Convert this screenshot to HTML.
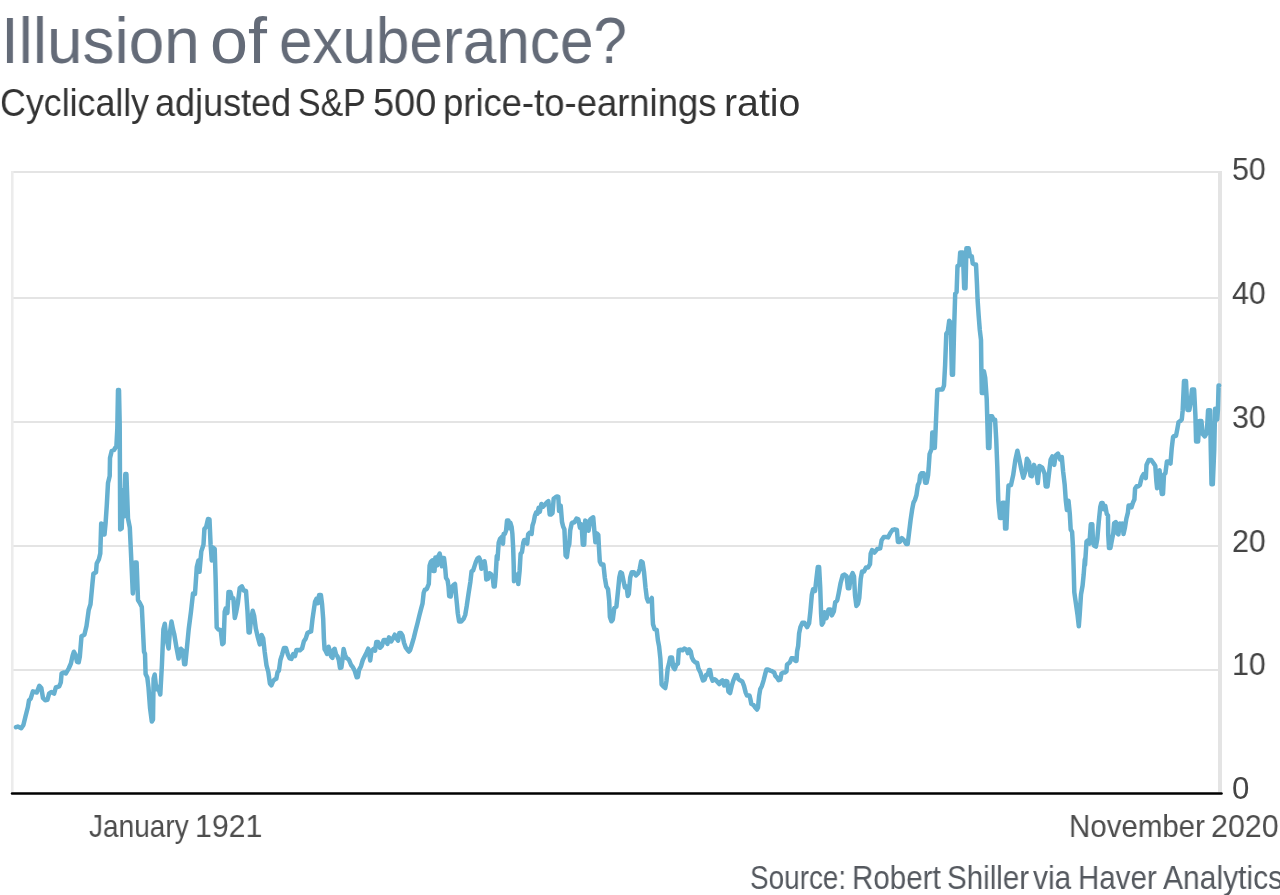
<!DOCTYPE html>
<html><head><meta charset="utf-8"><title>Illusion of exuberance?</title>
<style>
html,body{margin:0;padding:0;background:#fff;}
body{width:1280px;height:895px;position:relative;overflow:hidden;font-family:"Liberation Sans",sans-serif;}
.t{position:absolute;white-space:nowrap;line-height:1;transform-origin:0 0;will-change:transform;}
svg{position:absolute;left:0;top:0;}
</style></head><body>
<svg width="1280" height="895" viewBox="0 0 1280 895">
<g stroke="#e4e4e4" stroke-width="2" fill="none">
<line x1="11" y1="172" x2="1218" y2="172"/>
<line x1="11" y1="298" x2="1218" y2="298"/>
<line x1="11" y1="422" x2="1218" y2="422"/>
<line x1="11" y1="546" x2="1218" y2="546"/>
<line x1="11" y1="670" x2="1218" y2="670"/>
</g>
<line x1="12.3" y1="171" x2="12.3" y2="792" stroke="#ececec" stroke-width="2.6"/>
<line x1="1220" y1="171" x2="1220" y2="792" stroke="#e4e4e4" stroke-width="4"/>
<path d="M16.0 727.2 L17.8 726.6 L21.2 728.3 L23.4 725.0 L25.6 716.0 L27.9 707.0 L29.0 700.3 L30.7 698.7 L32.9 691.4 L35.1 692.0 L36.8 692.5 L39.3 685.8 L41.3 688.0 L43.0 698.0 L45.2 700.3 L47.4 699.8 L49.1 693.6 L51.3 692.0 L54.1 693.6 L55.8 687.5 L59.2 686.4 L60.8 682.5 L61.6 673.5 L63.6 672.4 L65.9 673.5 L68.7 668.5 L70.9 663.5 L72.6 655.6 L73.9 651.7 L75.4 654.5 L77.0 661.8 L78.7 662.3 L79.8 656.8 L81.5 636.3 L84.4 634.8 L86.5 626.0 L88.7 610.0 L90.5 604.3 L92.4 584.0 L93.4 573.8 L96.0 572.3 L96.7 563.6 L98.9 559.2 L100.3 553.4 L101.2 523.4 L103.0 525.0 L104.5 534.5 L105.6 523.0 L106.8 505.0 L108.0 483.0 L109.7 476.0 L110.0 458.0 L111.7 451.0 L114.0 450.0 L116.4 446.0 L117.3 429.0 L118.0 390.0 L119.0 390.0 L119.7 425.0 L120.2 529.5 L121.7 528.5 L123.0 490.0 L124.0 516.5 L125.3 474.0 L126.4 474.0 L128.0 518.5 L129.8 527.5 L131.3 560.0 L132.8 593.5 L135.0 562.6 L136.6 562.6 L138.0 600.0 L140.2 603.7 L141.8 607.0 L142.9 629.0 L144.0 651.7 L145.0 654.0 L145.6 674.0 L147.3 677.4 L148.5 687.5 L150.0 707.6 L151.8 721.5 L153.0 719.5 L153.6 678.5 L154.7 674.5 L156.3 689.3 L158.0 686.8 L160.3 694.5 L161.9 665.0 L163.4 629.4 L164.8 623.8 L166.3 638.0 L168.6 648.5 L169.7 634.0 L171.5 621.6 L173.0 629.4 L174.2 634.0 L176.4 647.0 L178.6 658.5 L180.9 648.8 L182.7 650.6 L184.2 664.3 L185.3 664.3 L187.0 647.0 L188.7 629.4 L191.0 611.5 L193.0 593.6 L195.0 593.9 L196.8 567.0 L198.4 560.6 L199.5 571.8 L201.3 551.4 L203.5 544.7 L204.4 529.0 L206.2 526.8 L208.0 519.0 L209.5 519.5 L210.6 544.7 L211.8 560.5 L212.9 547.4 L214.7 549.0 L215.6 578.0 L216.7 627.4 L218.5 629.6 L220.7 630.0 L222.3 644.2 L223.6 643.0 L224.7 611.7 L225.8 608.2 L227.4 613.0 L228.5 591.9 L230.3 591.9 L231.9 598.3 L233.4 598.3 L234.8 618.0 L236.3 611.7 L237.9 602.8 L239.7 588.0 L241.9 586.4 L243.7 590.5 L246.0 591.0 L247.5 611.7 L248.6 632.5 L249.7 632.5 L250.9 620.7 L252.7 610.8 L254.2 616.2 L255.8 628.5 L257.6 636.3 L259.8 644.4 L261.6 635.0 L263.2 638.5 L264.7 652.0 L266.5 665.4 L268.3 672.0 L269.9 683.5 L271.4 685.3 L273.2 681.0 L274.5 679.6 L276.3 678.8 L277.5 672.5 L278.9 670.7 L280.4 660.0 L282.1 654.6 L283.9 648.0 L286.0 648.0 L287.9 654.6 L289.6 658.4 L291.4 658.9 L293.2 654.1 L295.0 656.0 L296.4 650.0 L298.2 650.0 L300.0 650.2 L302.1 648.4 L303.9 641.2 L305.7 638.6 L307.5 633.0 L309.3 632.0 L311.1 631.4 L312.5 619.0 L313.8 610.0 L315.0 602.0 L316.4 598.8 L317.9 603.2 L319.1 595.0 L320.9 595.0 L322.1 604.6 L323.2 619.0 L323.9 638.6 L324.6 649.3 L325.7 651.0 L327.1 654.0 L328.6 646.8 L329.8 651.0 L331.1 656.4 L332.5 657.8 L333.4 650.2 L334.6 648.8 L336.1 654.6 L337.5 656.4 L338.8 660.0 L340.0 667.9 L341.4 667.5 L342.3 660.9 L343.6 649.0 L345.0 654.6 L346.4 658.0 L348.2 659.0 L349.3 660.6 L351.1 665.0 L353.0 667.4 L354.8 671.1 L356.7 677.3 L357.9 677.0 L359.1 669.9 L361.0 666.2 L362.8 660.0 L364.7 656.3 L366.5 652.7 L368.3 648.7 L370.2 660.5 L371.4 651.4 L373.3 649.2 L375.1 650.6 L376.3 642.1 L378.2 642.1 L380.0 647.8 L381.9 645.9 L383.7 639.9 L385.5 639.9 L387.4 643.9 L389.0 637.4 L391.1 641.5 L392.9 638.5 L394.8 634.7 L396.6 638.5 L398.1 640.6 L399.3 633.1 L400.9 633.1 L402.5 635.5 L404.0 642.8 L405.8 647.7 L407.7 650.2 L408.9 651.5 L410.1 650.2 L412.0 644.0 L413.8 637.9 L415.6 630.5 L417.5 623.2 L419.3 615.8 L421.2 608.4 L422.5 603.7 L423.7 592.7 L424.9 589.6 L426.8 589.0 L428.0 585.9 L428.8 584.0 L429.6 565.6 L430.8 561.9 L432.3 560.5 L433.3 571.0 L434.5 571.0 L435.4 557.5 L437.2 565.4 L438.4 556.0 L439.7 553.6 L440.6 558.3 L441.9 566.3 L442.7 558.1 L444.0 558.1 L445.2 568.1 L446.0 577.9 L447.6 580.4 L448.5 586.5 L449.2 596.0 L450.7 596.5 L452.2 586.5 L453.8 584.9 L455.0 584.0 L455.9 593.9 L456.9 603.7 L457.8 613.5 L459.1 621.5 L461.2 621.5 L463.6 618.8 L465.2 615.0 L466.7 606.2 L468.5 593.9 L470.4 581.6 L471.6 571.2 L473.1 570.5 L474.7 565.6 L475.9 561.9 L477.5 558.4 L479.0 557.6 L480.2 560.0 L481.4 568.8 L482.7 566.9 L484.5 561.2 L485.4 566.9 L486.3 579.5 L488.2 578.6 L489.4 573.2 L491.0 574.2 L492.7 576.7 L493.7 586.5 L494.7 586.5 L495.6 576.7 L496.8 556.0 L497.5 559.7 L498.7 542.7 L499.9 539.1 L501.8 537.0 L503.0 543.7 L503.6 534.1 L504.8 534.1 L506.1 530.5 L507.0 520.6 L508.5 520.6 L509.5 528.3 L510.4 522.8 L511.6 526.8 L512.4 534.1 L513.2 548.9 L513.7 564.9 L514.0 581.2 L515.9 578.0 L517.1 574.6 L518.3 584.0 L519.6 571.0 L520.6 553.8 L522.0 552.0 L523.3 542.7 L524.2 540.0 L525.7 540.0 L527.2 543.7 L528.2 534.1 L530.0 532.5 L531.6 533.9 L532.5 525.5 L533.7 521.9 L534.9 515.7 L536.2 512.2 L537.4 513.7 L538.6 507.9 L539.8 511.9 L541.4 504.0 L543.2 506.6 L544.8 504.7 L546.0 503.4 L547.2 502.0 L548.4 501.2 L549.7 514.5 L550.9 514.5 L552.5 513.0 L553.7 498.5 L555.2 497.5 L557.0 496.4 L558.3 496.6 L559.1 511.1 L560.7 505.6 L562.0 521.9 L563.2 526.8 L564.4 529.2 L565.0 542.7 L565.6 555.5 L566.9 557.0 L568.1 547.7 L569.3 544.0 L570.2 530.5 L571.8 523.1 L572.6 522.4 L574.4 522.4 L576.5 518.6 L578.4 519.4 L579.9 527.7 L581.6 524.4 L582.8 544.7 L584.2 544.7 L585.2 520.6 L587.1 521.7 L588.6 530.7 L590.3 519.5 L591.8 518.1 L593.2 517.3 L594.4 531.1 L595.4 542.3 L596.9 533.5 L598.3 534.8 L599.0 548.5 L599.8 561.6 L601.2 564.5 L603.4 564.5 L604.8 577.6 L606.3 586.3 L608.0 589.2 L609.2 600.8 L609.9 617.0 L611.4 621.3 L612.8 619.5 L614.3 608.0 L616.4 606.6 L617.9 592.1 L619.3 577.6 L620.5 572.3 L622.0 573.4 L623.4 580.5 L624.9 587.4 L626.6 586.5 L627.8 596.0 L628.8 594.0 L630.2 577.6 L631.7 572.3 L633.9 572.3 L636.0 575.4 L638.2 573.2 L639.7 568.9 L641.1 561.3 L642.6 562.4 L644.0 571.8 L645.5 587.5 L646.8 598.0 L648.1 601.5 L649.9 600.5 L651.8 598.0 L652.4 613.3 L653.0 624.3 L654.6 629.2 L656.7 629.8 L657.9 640.3 L659.1 646.4 L660.4 658.7 L661.0 671.0 L661.6 684.5 L663.4 686.5 L665.3 688.0 L666.5 680.8 L667.7 668.5 L669.0 663.6 L670.2 657.5 L672.0 657.5 L673.3 667.3 L674.7 669.2 L676.3 664.9 L677.9 663.6 L678.8 650.1 L680.6 649.7 L682.5 650.3 L684.3 648.6 L686.8 649.7 L687.8 653.1 L689.2 649.4 L690.7 651.3 L691.9 657.5 L693.5 660.6 L695.4 662.4 L697.2 663.0 L698.4 668.5 L700.3 672.2 L701.8 677.1 L703.0 680.5 L704.6 679.5 L706.2 674.7 L707.7 674.7 L708.9 670.1 L710.1 670.1 L711.3 677.1 L712.6 680.6 L714.4 679.2 L716.0 680.2 L717.5 682.0 L719.3 684.1 L720.9 681.5 L722.4 680.4 L724.2 685.5 L725.6 681.0 L727.3 681.5 L728.4 691.5 L730.1 693.0 L731.7 685.9 L733.4 680.3 L735.6 675.0 L737.3 675.0 L738.4 679.2 L740.1 680.3 L742.3 681.5 L744.0 685.9 L745.7 692.6 L747.0 695.5 L749.5 695.5 L750.2 698.2 L751.3 703.8 L753.5 705.0 L755.2 707.5 L757.0 709.5 L758.0 707.5 L759.1 696.0 L759.1 696.0 L760.2 689.3 L761.9 685.9 L763.6 680.3 L765.3 673.6 L766.4 669.6 L768.0 669.6 L770.3 670.6 L772.0 671.2 L774.2 672.4 L775.3 675.9 L777.0 677.5 L778.7 680.2 L780.3 679.7 L781.5 673.6 L783.1 672.5 L784.8 672.5 L786.5 671.4 L787.0 664.7 L788.2 663.6 L789.8 662.5 L791.5 658.3 L793.2 658.3 L795.4 660.9 L796.5 660.9 L797.1 651.3 L798.2 645.7 L799.1 633.4 L800.4 627.2 L802.4 622.7 L804.4 622.7 L807.1 627.1 L809.1 623.2 L810.4 611.2 L811.8 595.1 L813.1 589.3 L815.1 590.8 L816.4 579.0 L817.8 566.9 L819.1 566.9 L820.2 587.0 L821.1 613.8 L821.8 624.7 L823.2 622.6 L824.5 612.2 L826.5 618.1 L828.5 609.6 L830.5 609.6 L831.9 615.4 L833.9 611.2 L835.2 602.4 L837.2 600.4 L838.6 593.7 L840.6 583.0 L842.6 575.6 L844.6 574.6 L846.6 576.3 L847.9 588.2 L849.3 588.2 L850.6 577.6 L852.6 573.1 L854.0 576.3 L855.0 595.1 L856.4 605.9 L858.0 603.8 L859.3 597.7 L860.7 579.0 L862.0 571.6 L864.0 571.6 L866.0 567.6 L868.0 567.6 L870.0 564.2 L870.7 553.5 L872.1 550.1 L874.4 552.6 L877.3 549.0 L880.2 548.3 L881.6 540.3 L883.8 537.0 L886.0 537.0 L888.1 537.4 L890.3 533.0 L892.5 530.0 L894.7 529.3 L896.9 530.0 L897.9 541.9 L899.8 541.9 L901.9 538.1 L904.1 540.3 L906.3 544.1 L907.7 544.1 L909.2 531.6 L910.6 520.0 L912.1 509.8 L913.5 502.6 L915.0 499.7 L916.4 495.3 L917.9 485.2 L919.3 482.2 L920.1 475.5 L921.5 473.3 L923.7 473.3 L925.2 482.7 L926.6 482.7 L928.1 475.0 L928.8 466.0 L929.6 454.0 L931.6 449.0 L932.3 432.5 L934.2 433.0 L934.8 448.0 L935.6 430.0 L937.3 390.0 L939.6 389.5 L942.5 389.5 L944.0 385.5 L945.1 365.4 L946.3 333.8 L947.8 331.5 L949.2 320.8 L950.7 322.6 L951.9 374.8 L953.0 374.8 L954.1 329.5 L955.2 293.7 L956.6 292.0 L957.5 266.1 L959.3 265.2 L960.2 252.5 L962.9 252.5 L964.2 288.2 L965.5 288.2 L966.4 248.3 L968.7 248.3 L970.0 256.3 L971.8 256.3 L972.7 263.4 L974.7 264.4 L976.0 264.4 L977.0 284.8 L977.6 300.0 L978.7 316.1 L979.8 330.0 L981.0 340.0 L981.4 371.2 L981.8 392.9 L983.5 392.9 L983.9 371.2 L985.2 377.6 L986.7 398.8 L988.1 448.0 L989.4 448.0 L990.3 416.3 L992.0 416.3 L993.7 420.0 L995.1 419.8 L996.2 439.0 L997.3 466.6 L998.3 500.5 L1000.0 518.0 L1001.5 518.0 L1002.6 502.8 L1004.3 502.8 L1005.1 528.6 L1006.4 528.6 L1007.2 509.0 L1008.5 485.5 L1011.0 485.0 L1013.2 475.1 L1015.3 460.2 L1017.4 450.7 L1019.5 460.2 L1021.2 468.7 L1023.3 477.7 L1025.5 470.8 L1026.9 458.8 L1029.1 462.2 L1030.5 475.6 L1031.8 476.1 L1034.0 464.9 L1036.3 471.3 L1037.8 483.0 L1039.4 465.9 L1042.3 467.7 L1044.6 473.6 L1045.7 486.4 L1047.5 486.4 L1049.0 473.6 L1050.6 459.9 L1052.4 456.4 L1054.2 464.9 L1055.7 455.4 L1058.0 453.6 L1060.2 459.5 L1061.8 457.0 L1063.1 471.3 L1064.7 484.8 L1065.8 500.4 L1066.9 509.9 L1068.5 500.7 L1069.8 513.9 L1070.7 529.5 L1072.1 531.8 L1073.0 547.5 L1073.7 569.8 L1074.3 592.2 L1075.9 603.4 L1077.5 614.6 L1078.8 626.3 L1079.7 614.6 L1081.0 594.5 L1082.6 585.5 L1083.7 574.3 L1084.8 559.3 L1085.0 565.1 L1086.5 541.7 L1087.9 540.3 L1089.4 543.7 L1090.8 524.3 L1092.3 524.3 L1093.0 541.7 L1094.0 545.5 L1095.9 546.6 L1097.3 538.8 L1098.8 521.4 L1100.3 506.8 L1101.3 503.1 L1102.7 503.1 L1103.9 509.2 L1105.3 505.9 L1106.8 514.1 L1108.0 515.5 L1108.2 534.4 L1109.0 548.0 L1110.4 548.0 L1111.9 540.2 L1113.3 533.0 L1114.1 523.4 L1115.8 522.1 L1117.0 533.0 L1118.4 534.4 L1119.9 523.5 L1121.3 526.5 L1122.5 523.5 L1123.5 534.0 L1125.0 527.2 L1126.4 518.5 L1127.9 512.6 L1128.6 505.4 L1130.3 505.4 L1131.5 507.3 L1133.0 502.5 L1134.4 499.6 L1135.1 488.5 L1136.6 486.3 L1138.0 486.5 L1139.9 485.0 L1140.9 480.7 L1142.0 476.9 L1143.6 474.2 L1145.8 478.1 L1146.5 465.0 L1148.7 460.1 L1151.3 460.1 L1153.8 463.5 L1155.3 465.9 L1156.3 480.4 L1157.1 488.2 L1158.2 471.7 L1159.6 470.3 L1160.6 483.3 L1161.8 494.0 L1163.0 494.0 L1164.0 474.6 L1165.4 473.2 L1166.9 461.6 L1169.1 461.6 L1170.5 463.5 L1171.7 448.5 L1173.1 436.8 L1174.1 435.9 L1176.0 435.9 L1177.5 428.1 L1178.5 422.3 L1180.4 420.9 L1181.8 419.4 L1182.7 410.2 L1184.0 381.0 L1186.0 381.0 L1187.4 410.0 L1189.4 410.0 L1190.7 402.1 L1192.0 389.5 L1194.1 389.5 L1195.4 415.5 L1196.1 441.5 L1198.1 441.5 L1199.4 420.9 L1201.4 420.9 L1202.8 434.3 L1204.8 436.4 L1206.8 432.9 L1208.1 410.2 L1210.1 410.2 L1210.8 450.4 L1211.5 484.3 L1212.8 484.3 L1214.2 450.4 L1215.1 408.8 L1216.2 408.8 L1217.2 419.4 L1217.9 410.2 L1218.6 385.4 L1219.2 385.4" fill="none" stroke="#66b0d0" stroke-width="4.5" stroke-linejoin="round" stroke-linecap="round"/>
<line x1="12" y1="793.6" x2="1221.5" y2="793.6" stroke="#000" stroke-width="2.5" stroke-linecap="round"/>
</svg>
<div class="t " style="left:0.66px;top:7.57px;font-size:65.20px;transform:scaleX(0.9788);color:#646b78;">Illusion</div>
<div class="t " style="left:209.77px;top:7.57px;font-size:65.20px;transform:scaleX(1.0464);color:#646b78;">of</div>
<div class="t " style="left:278.84px;top:7.57px;font-size:65.20px;transform:scaleX(0.9228);color:#646b78;">exuberance?</div>
<div class="t " style="left:-0.49px;top:83.90px;font-size:38.70px;transform:scaleX(0.9248);color:#333;">Cyclically</div>
<div class="t " style="left:155.46px;top:83.90px;font-size:38.70px;transform:scaleX(0.9304);color:#333;">adjusted</div>
<div class="t " style="left:297.71px;top:83.90px;font-size:38.70px;transform:scaleX(0.8758);color:#333;">S&amp;P</div>
<div class="t " style="left:373.48px;top:83.90px;font-size:38.70px;transform:scaleX(0.9816);color:#333;">500</div>
<div class="t " style="left:443.05px;top:83.90px;font-size:38.70px;transform:scaleX(0.9418);color:#333;">price-to-earnings</div>
<div class="t " style="left:723.50px;top:83.90px;font-size:38.70px;transform:scaleX(1.0145);color:#333;">ratio</div>
<div class="t " style="left:89.44px;top:809.95px;font-size:32.20px;transform:scaleX(0.8701);color:#4d4d4d;">January</div>
<div class="t " style="left:195.38px;top:809.95px;font-size:32.20px;transform:scaleX(0.9406);color:#4d4d4d;">1921</div>
<div class="t " style="left:1068.84px;top:810.00px;font-size:32.20px;transform:scaleX(0.9152);color:#4d4d4d;">November</div>
<div class="t " style="left:1210.58px;top:810.00px;font-size:32.20px;transform:scaleX(0.9448);color:#4d4d4d;">2020</div>
<div class="t " style="left:750.40px;top:862.20px;font-size:32.30px;transform:scaleX(0.8641);color:#55595f;">Source:</div>
<div class="t " style="left:852.24px;top:862.20px;font-size:32.30px;transform:scaleX(0.9150);color:#55595f;">Robert</div>
<div class="t " style="left:946.92px;top:862.20px;font-size:32.30px;transform:scaleX(0.9151);color:#55595f;">Shiller</div>
<div class="t " style="left:1033.10px;top:862.20px;font-size:32.30px;transform:scaleX(0.9264);color:#55595f;">via</div>
<div class="t " style="left:1078.34px;top:862.20px;font-size:32.30px;transform:scaleX(0.9131);color:#55595f;">Haver</div>
<div class="t " style="left:1163.30px;top:862.20px;font-size:32.30px;transform:scaleX(0.9296);color:#55595f;">Analytics</div>
<div class="t yl" style="left:1231.90px;top:154.07px;font-size:31.20px;transform:scaleX(0.9750);color:#444;">50</div>
<div class="t yl" style="left:1231.90px;top:277.92px;font-size:31.20px;transform:scaleX(0.9750);color:#444;">40</div>
<div class="t yl" style="left:1231.90px;top:401.77px;font-size:31.20px;transform:scaleX(0.9750);color:#444;">30</div>
<div class="t yl" style="left:1231.90px;top:525.62px;font-size:31.20px;transform:scaleX(0.9750);color:#444;">20</div>
<div class="t yl" style="left:1231.90px;top:649.47px;font-size:31.20px;transform:scaleX(0.9750);color:#444;">10</div>
<div class="t yl" style="left:1231.90px;top:773.32px;font-size:31.20px;transform:scaleX(0.9750);color:#444;">0</div>
</body></html>
